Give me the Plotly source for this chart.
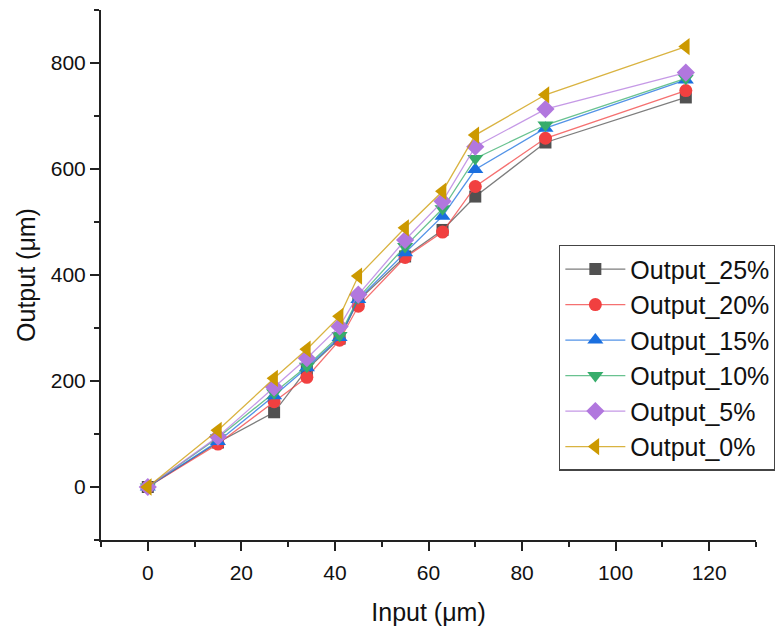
import plotly.graph_objects as go

x_input = [0, 15, 27, 34, 41, 45, 55, 63, 70, 85, 115]
out_25 = [0, 84, 141, 222, 280, 352, 435, 485, 548, 650, 735]
out_20 = [0, 81, 161, 207, 277, 341, 433, 481, 567, 658, 748]
out_15 = [0, 86, 172, 225, 282, 354, 442, 511, 599, 677, 768]
out_10 = [0, 93, 178, 228, 286, 357, 454, 525, 620, 683, 771]
out_5 = [0, 95, 188, 243, 303, 363, 466, 539, 642, 713, 782]
out_0 = [0, 107, 205, 260, 322, 398, 489, 558, 664, 740, 831]

names = ["Output_25%", "Output_20%", "Output_15%", "Output_10%", "Output_5%", "Output_0%"]
series = [out_25, out_20, out_15, out_10, out_5, out_0]
colors = ["#515151", "#F14040", "#1A6FDF", "#37AD6B", "#B177DE", "#CC9900"]
line_colors = ["rgba(81,81,81,0.75)", "rgba(241,64,64,0.75)", "rgba(26,111,223,0.75)",
               "rgba(55,173,107,0.75)", "rgba(177,119,222,0.75)", "rgba(204,153,0,0.75)"]
symbols = ["square", "circle", "triangle-up", "triangle-down", "diamond", "triangle-left"]
sizes = [12, 13, 14, 14, 14, 15]

fig = go.Figure()
for n, s, c, lc, sym, sz in zip(names, series, colors, line_colors, symbols, sizes):
    fig.add_trace(go.Scatter(
        x=x_input, y=s, name=n, mode="lines+markers",
        line=dict(color=lc, width=1.3),
        marker=dict(symbol=sym, size=sz, color=c, line=dict(width=0)),
    ))

font_family = "Arial, Liberation Sans, sans-serif"
axis_common = dict(
    showline=True, linecolor="#222", linewidth=2,
    ticks="outside", ticklen=9, tickwidth=2, tickcolor="#222",
    showgrid=False, zeroline=False, mirror=False, automargin=False,
    tickfont=dict(family=font_family, size=21, color="#111"),
)
fig.update_layout(
    width=775, height=618,
    margin=dict(l=93, r=27, t=2, b=86, autoexpand=False),
    paper_bgcolor="white", plot_bgcolor="white",
    font=dict(family=font_family, color="#111"),
    xaxis=dict(range=[-10, 130], dtick=20, tick0=0, ticklabelstandoff=4,
               minor=dict(dtick=10, tick0=0, ticks="outside", ticklen=5, tickwidth=2, tickcolor="#222"),
               title=dict(text="Input (μm)", font=dict(family=font_family, size=25), standoff=20),
               **axis_common),
    yaxis=dict(range=[-100, 900], dtick=200, tick0=0,
               minor=dict(dtick=100, tick0=0, ticks="outside", ticklen=5, tickwidth=2, tickcolor="#222"),
               title=dict(text="Output (μm)", font=dict(family=font_family, size=25), standoff=8),
               **axis_common),
    legend=dict(x=0.699, y=0.557, xanchor="left", yanchor="top",
                bordercolor="#444", borderwidth=1.5, bgcolor="white",
                font=dict(family=font_family, size=25, color="#111"),
                itemwidth=60, tracegroupgap=0),
    showlegend=True,
)
fig.write_html("out.html")
